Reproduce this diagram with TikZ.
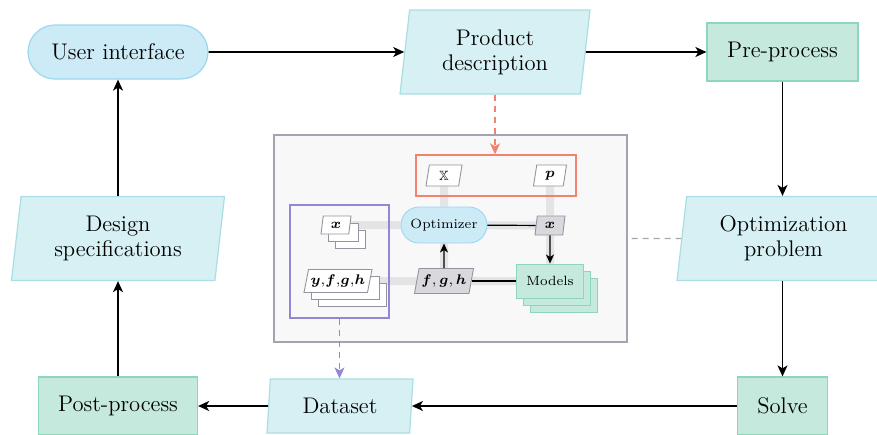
\documentclass[tikz,border=0pt]{standalone}
\usepackage{amsmath,amssymb,bm}
\usetikzlibrary{shapes.geometric,arrows.meta,calc}
\definecolor{uifill}{HTML}{CDEBF7}
\definecolor{uidraw}{HTML}{9CD7EF}
\definecolor{dfill}{HTML}{D6F0F3}
\definecolor{ddraw}{HTML}{A9DEE5}
\definecolor{pfill}{HTML}{C5E9DC}
\definecolor{pdraw}{HTML}{8ED6BB}
\definecolor{panelfill}{HTML}{F8F8F8}
\definecolor{paneldraw}{HTML}{A4A4B0}
\definecolor{redbox}{HTML}{F2836E}
\definecolor{purplebox}{HTML}{9486D6}
\definecolor{band}{HTML}{E4E4E7}
\definecolor{smallgray}{HTML}{D8D8DD}
\definecolor{smalldraw}{HTML}{9494A0}
\definecolor{dashgray}{HTML}{A6A6A6}
\pgfdeclarelayer{bg}\pgfdeclarelayer{mid}\pgfsetlayers{bg,mid,main}
\begin{document}
\begin{tikzpicture}[x=0.5pt,y=-0.5pt,
  base/.style={font=\fontsize{11.3pt}{12.6pt}\selectfont, align=center, inner sep=0pt, line width=0.6pt},
  term/.style={base, fill=uifill, draw=uidraw, rounded corners=13.5pt, minimum width=90pt, minimum height=27pt},
  datap/.style={base, trapezium, trapezium left angle=78, trapezium right angle=102, trapezium stretches body, fill=dfill, draw=ddraw},
  proc/.style={base, fill=pfill, draw=pdraw, minimum height=29pt},
  arr/.style={line width=0.8pt, -{Stealth[length=5.5pt,width=5pt,inset=1.5pt]}},
  small/.style={font=\fontsize{6.7pt}{7.7pt}\selectfont, inner sep=0pt, line width=0.45pt},
  spar/.style={small, trapezium, trapezium left angle=70, trapezium right angle=110, trapezium stretches body, fill=white, draw=smalldraw},
  gpar/.style={spar, fill=smallgray, draw=smalldraw},
  sproc/.style={small, fill=pfill, draw=pdraw, minimum width=33.5pt, minimum height=17pt},
  bandline/.style={band, line width=4pt},
  sarr/.style={line width=0.7pt, -{Stealth[length=4.5pt,width=4pt,inset=1.2pt]}},
  dasharr/.style={line width=0.6pt, dash pattern=on 3pt off 2.5pt, -{Stealth[length=5.5pt,width=5pt,inset=1.5pt]}}
]
\useasboundingbox (0,0) rectangle (877,434);
\clip (0,0) rectangle (877,434);
% main flow nodes
\node[term] (ui) at (118,52) {User interface};
\node[datap, minimum width=95pt, minimum height=42pt] (prod) at (495,52) {Product\\description};
\node[proc, minimum width=75.5pt] (pre) at (782.5,52) {Pre-process};
\node[datap, minimum width=106.5pt, minimum height=42pt] (opt) at (783.5,238.5) {Optimization\\problem};
\node[proc, minimum width=45pt] (solve) at (782.5,406) {Solve};
\node[datap, minimum width=73pt, minimum height=27pt] (data) at (340,406) {Dataset};
\node[proc, minimum width=79.5pt] (post) at (118,406) {Post-process};
\node[datap, minimum width=106.5pt, minimum height=42pt] (design) at (118,238.5) {Design\\specifications};
% main arrows
\draw[arr] (ui) -- (prod);
\draw[arr] (prod) -- (pre);
\draw[arr] (pre.south) -- (pre.south |- opt.north);
\draw[arr] (solve.north |- opt.south) -- (solve.north);
\draw[arr] (solve) -- (data);
\draw[arr] (data) -- (post);
\draw[arr] (post.north) -- (post.north |- design.south);
\draw[arr] (ui.south |- design.north) -- (ui.south);
% central panel
\begin{pgfonlayer}{bg}
\node[draw=paneldraw, fill=panelfill, line width=0.7pt, minimum width=176.5pt, minimum height=103.5pt, inner sep=0pt] (panel) at (450.5,238.5) {};
\end{pgfonlayer}
\node[draw=redbox, line width=0.7pt, minimum width=80pt, minimum height=20.5pt, inner sep=0pt] (redb) at (496,175.5) {};
\node[draw=purplebox, line width=0.7pt, minimum width=49.5pt, minimum height=56.5pt, inner sep=0pt] (purb) at (339.5,261.5) {};
% small nodes
\node[spar, minimum width=18pt, minimum height=10.5pt] (X) at (444,175.5) {$\mathbb{X}$};
\node[spar, minimum width=16.5pt, minimum height=10.5pt] (p) at (550,175.5) {$\boldsymbol{p}$};
\node[small, fill=uifill, draw=uidraw, rounded corners=9pt, minimum width=43pt, minimum height=18pt] (optz) at (444,225) {Optimizer};
\node[gpar, minimum width=15pt, minimum height=9.5pt] (xg) at (550,225.5) {$\boldsymbol{x}$};
\node[gpar, minimum width=29.5pt, minimum height=12.5pt] (fgh) at (444,281) {$\boldsymbol{f},\boldsymbol{g},\boldsymbol{h}$};
\node[sproc] (m3) at (564,295) {};
\node[sproc] (m2) at (557,288) {};
\node[sproc] (models) at (550,281) {Models};
\node[spar, minimum width=15pt, minimum height=9pt] (xs3) at (350,239) {};
\node[spar, minimum width=15pt, minimum height=9pt] (xs2) at (343,232) {};
\node[spar, minimum width=15pt, minimum height=9pt] (xs) at (336,225) {$\boldsymbol{x}$};
\node[spar, minimum width=34pt, minimum height=11.5pt] (ys3) at (352,295) {};
\node[spar, minimum width=34pt, minimum height=11.5pt] (ys2) at (345,288) {};
\node[spar, minimum width=34pt, minimum height=11.5pt] (ys) at (338,281) {$\boldsymbol{y},\!\boldsymbol{f},\!\boldsymbol{g},\!\boldsymbol{h}$};
% bands
\begin{pgfonlayer}{mid}
\draw[bandline] (X) -- (optz);
\draw[bandline] (p) -- (xg) -- (models);
\draw[bandline] (xs) -- (optz) -- (xg);
\draw[bandline] (ys) -- (fgh) -- (models);
\draw[bandline] (fgh) -- (optz);
\end{pgfonlayer}
% black connectors
\draw[line width=0.6pt] (optz) -- (xg);
\draw[sarr] (xg) -- (models);
\draw[sarr] (fgh) -- (optz);
\draw[line width=0.6pt] (fgh) -- (models);
% dashed connectors
\draw[dasharr, draw=redbox] (prod.south) -- (prod.south |- redb.north);
\draw[dasharr, draw=purplebox] (purb.south) -- (purb.south |- data.north);
\draw[line width=0.6pt, dashgray, dash pattern=on 3pt off 2.5pt, shorten <=2pt] (panel.east) -- (opt);
\end{tikzpicture}
\end{document}
